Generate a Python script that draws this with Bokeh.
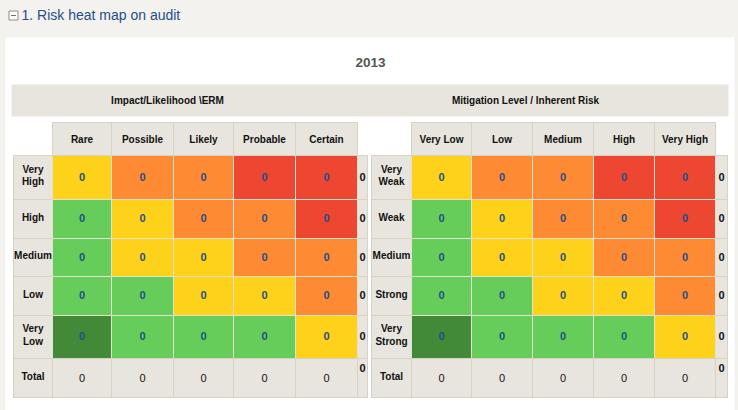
from bokeh.plotting import figure
from bokeh.models import Range1d
from bokeh.core.properties import value
from bokeh.embed import file_html
from bokeh.resources import INLINE

# ---------------- data ----------------
section_title = "1. Risk heat map on audit"
year_title = "2013"
left_title = "Impact/Likelihood \\ERM"
right_title = "Mitigation Level / Inherent Risk"
left_cols = ["Rare", "Possible", "Likely", "Probable", "Certain"]
right_cols = ["Very Low", "Low", "Medium", "High", "Very High"]
left_rows = ["Very\nHigh", "High", "Medium", "Low", "Very\nLow"]
right_rows = ["Very\nWeak", "Weak", "Medium", "Strong", "Very\nStrong"]
total_label = "Total"
# counts per cell (rows top->bottom, cols left->right)
left_counts = [[0, 0, 0, 0, 0],
               [0, 0, 0, 0, 0],
               [0, 0, 0, 0, 0],
               [0, 0, 0, 0, 0],
               [0, 0, 0, 0, 0]]
right_counts = [[0, 0, 0, 0, 0],
                [0, 0, 0, 0, 0],
                [0, 0, 0, 0, 0],
                [0, 0, 0, 0, 0],
                [0, 0, 0, 0, 0]]
# risk level of each cell: 0 very low .. 4 very high
risk_level = [[2, 3, 3, 4, 4],
              [1, 2, 3, 3, 4],
              [1, 2, 2, 3, 3],
              [1, 1, 2, 2, 3],
              [0, 1, 1, 1, 2]]

# ---------------- styles ----------------
LEVEL_COLORS = ["#438A38", "#66CC5A", "#FED11A", "#FE8A34", "#ED4631"]
PAGE_BG = "#F3F2EE"
HEAD_BG = "#E8E5DE"
BORDER = "#D8D2C2"
CELL_LINE = "#E4E1D4"
NUM_COLOR = "#1F4E8C"
FONT = value("Liberation Sans")

# layout geometry (pixel units)
row_edges = [155, 199, 238, 276, 315, 358, 397]
col_head_top = 122
tables = [
    dict(title=left_title, title_x=167, cols=left_cols, rows=left_rows, counts=left_counts,
         rh=(13, 52), col_edges=[52, 111, 173, 233, 295, 357], tot=(357, 367)),
    dict(title=right_title, title_x=525, cols=right_cols, rows=right_rows, counts=right_counts,
         rh=(371, 411), col_edges=[411, 471, 532, 593, 654, 715], tot=(715, 727)),
]

p = figure(width=738, height=410, output_backend="svg", toolbar_location=None,
           x_range=Range1d(0, 738), y_range=Range1d(410, 0),
           min_border=0, background_fill_color=PAGE_BG, border_fill_color=PAGE_BG)
p.axis.visible = False
p.grid.visible = False
p.outline_line_color = None


def box(x0, x1, y0, y1, fill, line=None):
    p.quad(left=[x0], right=[x1], top=[y0], bottom=[y1], fill_color=fill,
           line_color=line, line_width=1)


def txt(xs, ys, texts, size="10px", color="#111111", style="bold", align="center",
        baseline="middle", lh=1.1):
    p.text(x=xs, y=ys, text=texts, text_font=FONT, text_font_size=size,
           text_color=color, text_font_style=style, text_align=align,
           text_baseline=baseline, text_line_height=lh)


# header area
box(5, 734, 37, 410, "#FFFFFF")
# collapse icon
box(8.5, 17.5, 10.5, 19.5, "#FFFFFF", "#8C8C8C")
p.segment(x0=[10.5], x1=[15.5], y0=[15], y1=[15], line_color="#6E6E6E", line_width=1)
txt([21], [14.5], [section_title], size="14px", color="#1F4E8C", style="normal",
    align="left")
txt([370], [62], [year_title], size="13.5px", color="#555555")

# title band
box(11, 728, 84, 116, HEAD_BG)

for t in tables:
    ce = t["col_edges"]
    txt([t["title_x"]], [100], [t["title"]])
    # column headers
    for j, c in enumerate(t["cols"]):
        box(ce[j], ce[j + 1], col_head_top, row_edges[0], HEAD_BG, BORDER)
    txt([(ce[j] + ce[j + 1]) / 2 for j in range(5)], [139] * 5, t["cols"])
    # row headers + cells
    for i in range(6):
        y0, y1 = row_edges[i], row_edges[i + 1]
        box(t["rh"][0], t["rh"][1], y0, y1, HEAD_BG, BORDER)
        box(t["tot"][0], t["tot"][1], y0, y1, HEAD_BG, BORDER)
        for j in range(5):
            if i < 5:
                box(ce[j], ce[j + 1], y0, y1, LEVEL_COLORS[risk_level[i][j]], CELL_LINE)
            else:
                box(ce[j], ce[j + 1], y0, y1, HEAD_BG, BORDER)
    # outer border
    p.quad(left=[t["rh"][0]], right=[t["tot"][1]], top=[row_edges[0]], bottom=[row_edges[-1]],
           fill_color=None, line_color=BORDER, line_width=1)
    rh_x = (t["rh"][0] + t["rh"][1]) / 2
    row_mid = [(row_edges[i] + row_edges[i + 1]) / 2 for i in range(6)]
    txt([rh_x] * 6, [m - 2 for m in row_mid], t["rows"] + [total_label])
    # cell values
    xs, ys, vals = [], [], []
    for i in range(5):
        for j in range(5):
            xs.append((ce[j] + ce[j + 1]) / 2)
            ys.append(row_mid[i] - 1)
            vals.append(str(t["counts"][i][j]))
    txt(xs, ys, vals, size="11px", color=NUM_COLOR, style="bold")
    # row totals
    row_tot = [sum(r) for r in t["counts"]]
    tx = (t["tot"][0] + t["tot"][1]) / 2
    txt([tx] * 5, [m - 1 for m in row_mid[:5]], [str(v) for v in row_tot], size="11px",
        color="#111111", style="bold")
    # column totals
    col_tot = [sum(t["counts"][i][j] for i in range(5)) for j in range(5)]
    txt([(ce[j] + ce[j + 1]) / 2 for j in range(5)], [row_mid[5]] * 5,
        [str(v) for v in col_tot], size="11px", color="#111111", style="normal")
    # grand total (top aligned)
    txt([tx], [367], [str(sum(row_tot))], size="11px", color="#111111", style="bold")

html = file_html(p, INLINE).replace("<body>", '<body style="background-color:%s">' % PAGE_BG)
open("out.html", "w").write(html)
